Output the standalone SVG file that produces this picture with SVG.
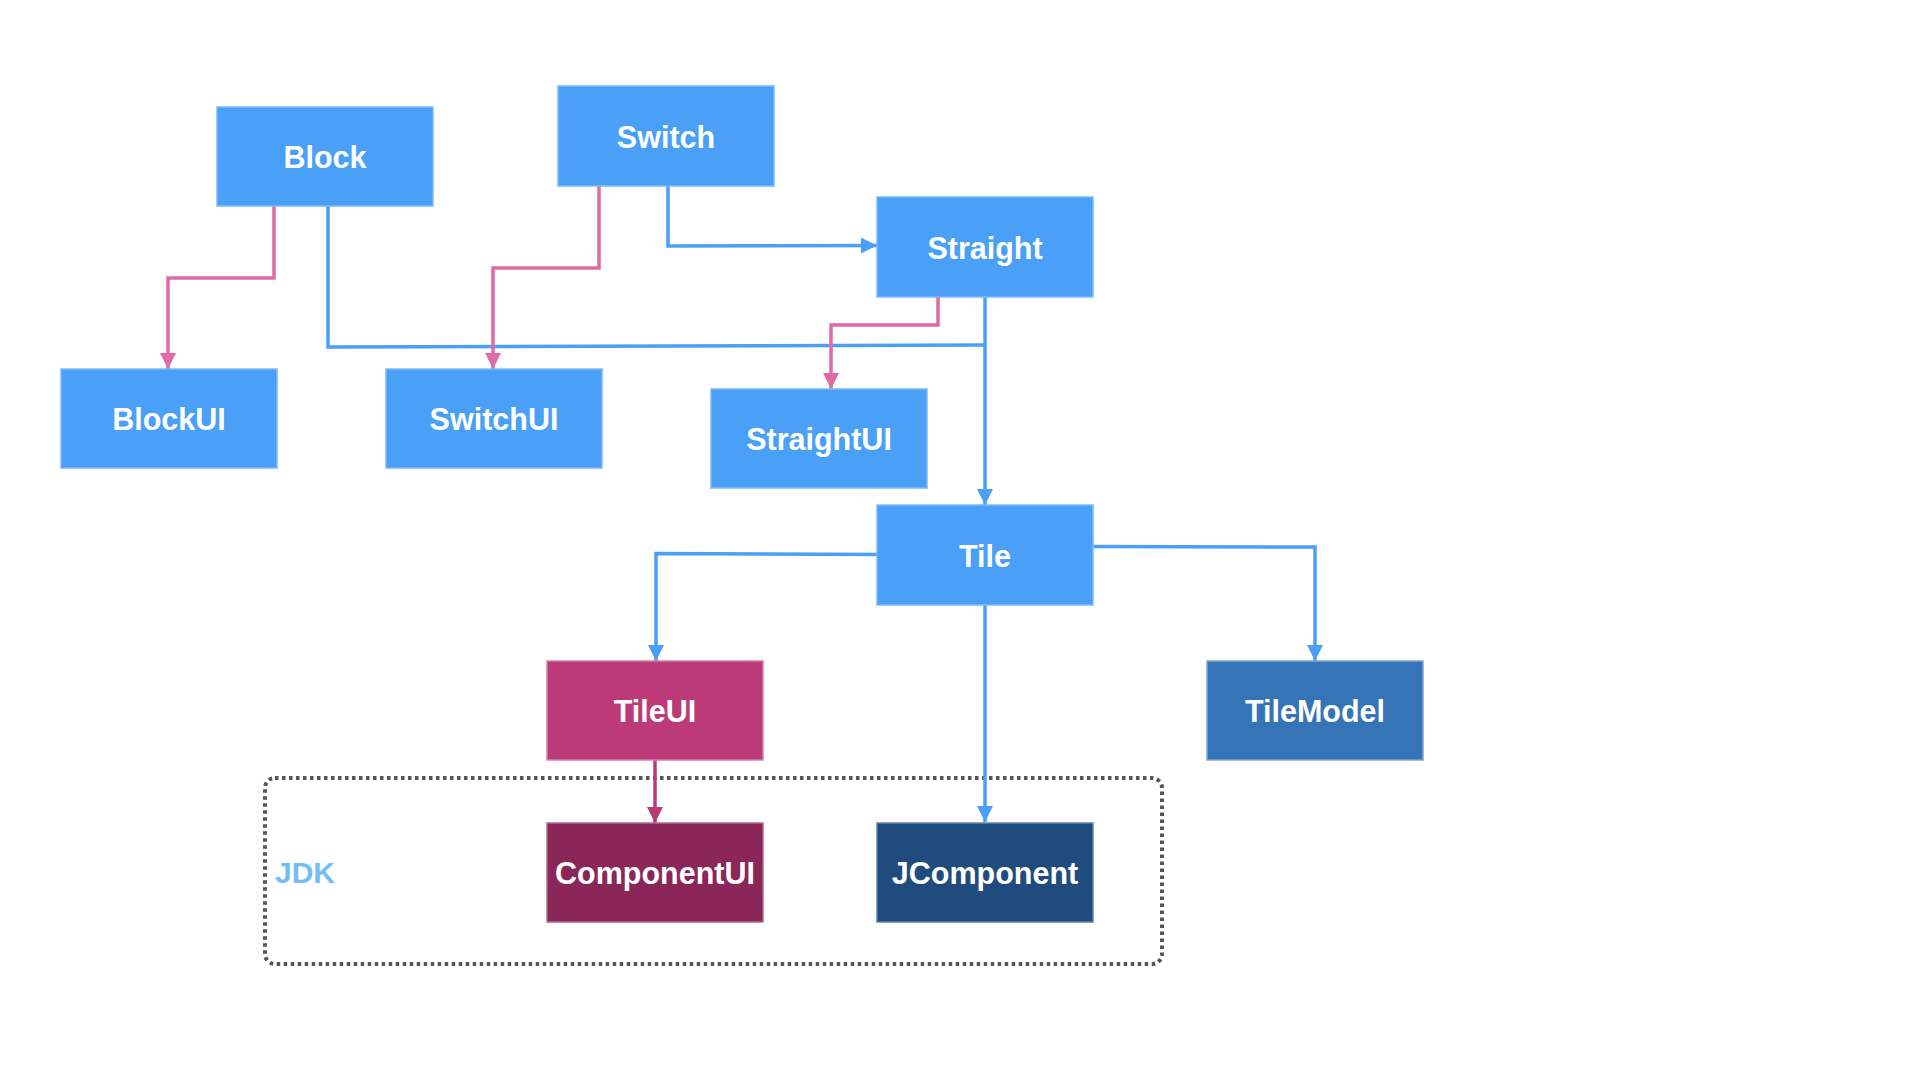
<svg xmlns="http://www.w3.org/2000/svg" width="1920" height="1080" viewBox="0 0 1920 1080">
<style>
.node rect{stroke-width:1.5}
.blue rect{fill:#4a9ff7;stroke:#7cbaf8}
.tileui rect{fill:#bb3a77;stroke:#d680a8}
.compui rect{fill:#8b2659;stroke:#b06a8c}
.jcomp rect{fill:#1f4c7d;stroke:#5f82a8}
.model rect{fill:#3474b7;stroke:#7ea6d3}
.node text{font-family:"Liberation Sans",Arial,sans-serif;font-weight:bold;font-size:30.5px;fill:#ffffff;text-anchor:middle}
.c{fill:none;stroke-width:3.5}
.cb{stroke:#4aa0f7}
.cp{stroke:#e06aa7}
.cd{stroke:#bb3a77}
.jdk{font-family:"Liberation Sans",Arial,sans-serif;font-weight:bold;font-size:30px;fill:#73bdf7}
</style>
<defs>
<marker id="ab" markerUnits="userSpaceOnUse" markerWidth="16" markerHeight="16" viewBox="0 0 16 16" refX="16" refY="8" orient="auto"><path d="M0 0 L16 8 L0 16 Z" fill="#4aa0f7"/></marker>
<marker id="ap" markerUnits="userSpaceOnUse" markerWidth="16" markerHeight="16" viewBox="0 0 16 16" refX="16" refY="8" orient="auto"><path d="M0 0 L16 8 L0 16 Z" fill="#e06aa7"/></marker>
<marker id="ad" markerUnits="userSpaceOnUse" markerWidth="16" markerHeight="16" viewBox="0 0 16 16" refX="16" refY="8" orient="auto"><path d="M0 0 L16 8 L0 16 Z" fill="#bb3a77"/></marker>
</defs>
<rect width="1920" height="1080" fill="#ffffff"/>
<g id="jdk-group">
<rect x="265" y="778" width="897" height="186" rx="10" fill="none" stroke="#555555" stroke-width="4" stroke-dasharray="3.5 3.5"/>
<text class="jdk" x="275" y="883">JDK</text>
</g>
<g id="connectors">
<path class="c cp" d="M274 206 V278 H168 V369" marker-end="url(#ap)"/>
<path class="c cb" d="M328 206 V347 L985 345"/>
<path class="c cp" d="M599 186 V268 H493 V369" marker-end="url(#ap)"/>
<path class="c cb" d="M668 186 V246 L877 245.5" marker-end="url(#ab)"/>
<path class="c cp" d="M938 297 V325 H831 V389" marker-end="url(#ap)"/>
<path class="c cb" d="M985 297 V505" marker-end="url(#ab)"/>
<path class="c cb" d="M877 554.5 L656 553.5 V661" marker-end="url(#ab)"/>
<path class="c cb" d="M1093 546.5 L1315 547 V661" marker-end="url(#ab)"/>
<path class="c cb" d="M985 605 V822" marker-end="url(#ab)"/>
<path class="c cd" d="M655 760 V823" marker-end="url(#ad)"/>
</g>
<g id="Block" class="node blue"><rect x="217" y="107" width="216" height="99"/><text x="325" y="168">Block</text></g>
<g id="Switch" class="node blue"><rect x="558" y="86" width="216" height="100"/><text x="666" y="148">Switch</text></g>
<g id="Straight" class="node blue"><rect x="877" y="197" width="216" height="100"/><text x="985" y="259">Straight</text></g>
<g id="BlockUI" class="node blue"><rect x="61" y="369" width="216" height="99"/><text x="169" y="430">BlockUI</text></g>
<g id="SwitchUI" class="node blue"><rect x="386" y="369" width="216" height="99"/><text x="494" y="430">SwitchUI</text></g>
<g id="StraightUI" class="node blue"><rect x="711" y="389" width="216" height="99"/><text x="819" y="450">StraightUI</text></g>
<g id="Tile" class="node blue"><rect x="877" y="505" width="216" height="100"/><text x="985" y="567">Tile</text></g>
<g id="TileUI" class="node tileui"><rect x="547" y="661" width="216" height="99"/><text x="655" y="722">TileUI</text></g>
<g id="TileModel" class="node model"><rect x="1207" y="661" width="216" height="99"/><text x="1315" y="722">TileModel</text></g>
<g id="ComponentUI" class="node compui"><rect x="547" y="823" width="216" height="99"/><text x="655" y="884">ComponentUI</text></g>
<g id="JComponent" class="node jcomp"><rect x="877" y="823" width="216" height="99"/><text x="985" y="884">JComponent</text></g>
</svg>
